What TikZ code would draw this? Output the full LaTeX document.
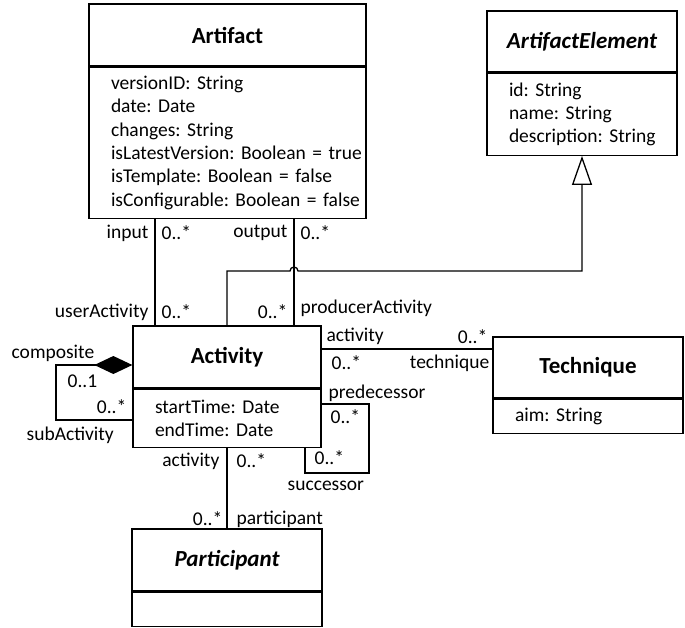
\documentclass[tikz,border=0pt]{standalone}
\usepackage{fontspec}
\setmainfont{Carlito}
\usetikzlibrary{arrows.meta, positioning, calc}
\frenchspacing

\newcommand{\attrfont}{\fontsize{19.5}{23.3}\selectfont}

\begin{document}
\begin{tikzpicture}[x=1pt, y=-1pt, line width=1.3pt,
    classname/.style={draw, minimum height=62pt, font=\fontsize{23}{28}\selectfont\bfseries},
    abstract/.style={classname, font=\fontsize{23}{28}\selectfont\bfseries\itshape},
    attrs/.style={draw, align=left, inner xsep=0pt, font=\attrfont, execute at begin node={\leftskip=22pt}},
    role/.style={font=\attrfont, inner sep=2pt},
    gen/.style={-{Triangle[open, length=29pt, width=20pt]}},
    comp/.style={-{Diamond[length=38pt, width=18pt]}}
]
\useasboundingbox (0,0) rectangle (685,627);

% Classes
\node[classname, minimum width=277pt] (art) at (227.5,35) {Artifact};
\node[attrs, text width=277pt, minimum height=151pt, below=0pt of art] (artattr) {versionID: String\\ date: Date\\ changes: String\\ isLatestVersion: Boolean = true\\ isTemplate: Boolean = false\\ isConfigurable: Boolean = false};

\node[abstract, minimum width=190pt, minimum height=61pt] (ae) at (582,41.5) {ArtifactElement};
\node[attrs, text width=190pt, minimum height=82pt, below=0pt of ae] (aeattr) {id: String\\ name: String\\ description: String};

\node[classname, minimum width=188pt] (act) at (227,357) {Activity};
\node[attrs, text width=188pt, minimum height=58pt, below=0pt of act] (actattr) {startTime: Date\\ endTime: Date};

\node[classname, minimum width=190pt, minimum height=61pt] (tech) at (588,367.5) {Technique};
\node[attrs, text width=190pt, minimum height=34pt, below=0pt of tech] (techattr) {aim: String};

\node[abstract, minimum width=190pt] (part) at (227,560) {Participant};
\node[attrs, text width=190pt, minimum height=34pt, below=0pt of part] (partattr) {};

% Bend points
\coordinate (inx) at (155,0);
\coordinate (outx) at (294,0);
\coordinate (jump) at (294,271);
\coordinate (compl) at (56,365);
\coordinate (subx) at (0,420);
\coordinate (techy) at (0,349);
\coordinate (predy) at (0,404);
\coordinate (loopc) at (369,473);
\coordinate (succx) at (305,0);

% Associations
\draw (artattr.south -| inx) -- (act.north -| inx);
\draw (artattr.south -| outx) -- (act.north -| outx);
\draw[gen] (act.north) |- ([xshift=-4pt]jump) arc[start angle=180, end angle=360, radius=4] -- (jump -| aeattr.south) -- (aeattr.south);
\draw[comp] (actattr.west |- subx) -| (compl) -- (act.west |- compl);
\draw (act.east |- techy) -- (tech.west |- techy);
\draw (actattr.east |- predy) -| (loopc) -| (actattr.south -| succx);
\draw (actattr.south) -- (part.north);

% Roles and multiplicities
\node[role, anchor=east] (rin) at (151,233) {input};
\node[role, anchor=west] (min) at (159,233) {0..*};
\node[role, anchor=east] (rout) at (290,233) {output};
\node[role, anchor=west] (mout) at (298,233) {0..*};
\node[role, anchor=east] (ruser) at (151,312) {userActivity};
\node[role, anchor=west] (muser) at (159,312) {0..*};
\node[role, anchor=east] (mprod) at (290,312) {0..*};
\node[role, anchor=west] (rprod) at (298,308) {producerActivity};
\node[role, anchor=west] (ract) at (324,336) {activity};
\node[role, anchor=west] (mact) at (329,363) {0..*};
\node[role, anchor=east] (mtech) at (490,337) {0..*};
\node[role, anchor=east] (rtech) at (492,363) {technique};
\node[role, anchor=west] (rpred) at (326,393) {predecessor};
\node[role, anchor=west] (mpred) at (328,417) {0..*};
\node[role, anchor=west] (msucc) at (312,458) {0..*};
\node[role, anchor=west] (rsucc) at (285,486) {successor};
\node[role, anchor=west] (rcomp) at (9,353) {composite};
\node[role, anchor=west] (mcomp) at (65,381) {0..1};
\node[role, anchor=east] (msub) at (129,407) {0..*};
\node[role, anchor=west] (rsub) at (24,435) {subActivity};
\node[role, anchor=east] (rpact) at (222,461) {activity};
\node[role, anchor=west] (mpact) at (234,461) {0..*};
\node[role, anchor=east] (mpart) at (225,519) {0..*};
\node[role, anchor=west] (rpart) at (234,519) {participant};
\end{tikzpicture}
\end{document}
